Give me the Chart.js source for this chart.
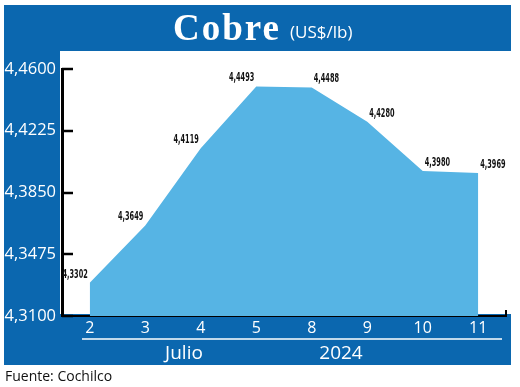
<!DOCTYPE html>
<html>
<head>
<meta charset="utf-8">
<script src="https://cdn.jsdelivr.net/npm/chart.js@4.4.1/dist/chart.umd.min.js"></script>
<style>
    html, body { margin: 0; padding: 0; background: #fff; }
    #wrap { width: 520px; height: 387px; }
</style>
</head>
<body>
<div id="wrap"><canvas id="cobreChart" width="520" height="387"></canvas></div>
<script>
const days = ['2', '3', '4', '5', '8', '9', '10', '11'];
const prices = [4.3302, 4.3649, 4.4119, 4.4493, 4.4488, 4.4280, 4.3980, 4.3969];
const yTicks = [4.31, 4.3475, 4.385, 4.4225, 4.46];

const BLUE = '#0b67af';
const AREA = '#56b4e4';

const fmt = (v) => v.toFixed(4).replace('.', ',');

const framePlugin = {
    id: 'frame',
    beforeDraw: (chart) => {
        const ctx = chart.ctx;
        ctx.save();
        ctx.fillStyle = BLUE;
        ctx.fillRect(4, 5, 507, 360);
        ctx.fillStyle = '#fff';
        ctx.fillRect(60, 51, 451, 263);
        ctx.restore();
    },
    afterDraw: (chart) => {
        const ctx = chart.ctx;
        const { left, right, bottom } = chart.chartArea;
        const y = chart.scales.y;
        const x = chart.scales.x;
        ctx.save();

        // tick marks pointing inward
        ctx.strokeStyle = '#000';
        ctx.lineWidth = 2.5;
        yTicks.forEach(v => {
            const py = Math.round(y.getPixelForValue(v));
            ctx.beginPath();
            ctx.moveTo(left, py);
            ctx.lineTo(left + 11, py);
            ctx.stroke();
        });
        ctx.lineWidth = 2;
        ctx.beginPath();
        ctx.moveTo(right, bottom);
        ctx.lineTo(right, bottom - 6);
        ctx.stroke();

        // value labels
        ctx.fillStyle = '#111';
        ctx.font = 'bold 13px "Liberation Sans Narrow", "DejaVu Sans Condensed", sans-serif';
        ctx.textBaseline = 'bottom';
        prices.forEach((v, i) => {
            const px = x.getPixelForValue(i);
            const py = y.getPixelForValue(v);
            ctx.save();
            ctx.translate(i < 4 ? px - 2 : px + 2, py - 2);
            ctx.scale(0.56, 1);
            ctx.textAlign = i < 4 ? 'right' : 'left';
            ctx.fillText(fmt(v), 0, 0);
            ctx.restore();
        });

        // title
        ctx.fillStyle = '#fff';
        ctx.textBaseline = 'alphabetic';
        ctx.textAlign = 'left';
        ctx.font = 'bold 37px "Liberation Serif", "DejaVu Serif", serif';
        ctx.letterSpacing = '2px';
        ctx.fillText('Cobre', 173, 40);
        ctx.letterSpacing = '0px';
        ctx.font = '17px "Open Sans", sans-serif';
        ctx.fillText('(US$/lb)', 290, 38);

        // month / year band
        ctx.strokeStyle = '#fff';
        ctx.lineWidth = 1.5;
        ctx.beginPath();
        ctx.moveTo(82, 339);
        ctx.lineTo(502, 339);
        ctx.stroke();
        ctx.textAlign = 'center';
        ctx.font = '19px "Open Sans", sans-serif';
        ctx.fillText('Julio', 184, 359);
        ctx.fillText('2024', 341, 359);

        // source
        ctx.textAlign = 'left';
        ctx.fillStyle = '#111';
        ctx.font = '14px "Open Sans", sans-serif';
        ctx.fillText('Fuente: Cochilco', 5, 381);
        ctx.restore();
    }
};

new Chart(document.getElementById('cobreChart'), {
    type: 'line',
    data: {
        labels: days,
        datasets: [{
            data: prices,
            fill: 'start',
            backgroundColor: AREA,
            borderWidth: 0,
            pointRadius: 0,
            tension: 0
        }]
    },
    options: {
        responsive: false,
        animation: false,
        layout: { padding: { top: 69, right: 14, left: 0, bottom: 0 } },
        plugins: {
            legend: { display: false },
            tooltip: { enabled: false }
        },
        scales: {
            x: {
                offset: true,
                grid: { display: false, drawTicks: false },
                border: { display: true, color: '#000', width: 2 },
                ticks: {
                    color: '#fff',
                    padding: 3,
                    font: { family: '"Open Sans", sans-serif', size: 16 }
                },
                afterFit: (s) => { s.height = 71; }
            },
            y: {
                min: 4.31,
                max: 4.46,
                grid: { display: false, drawTicks: false },
                border: { display: true, color: '#000', width: 3 },
                afterBuildTicks: (s) => { s.ticks = yTicks.map(v => ({ value: v })); },
                ticks: {
                    color: '#fff',
                    padding: 6,
                    font: { family: '"Open Sans", sans-serif', size: 16.5 },
                    callback: (v) => fmt(v)
                },
                afterFit: (s) => { s.width = 62; }
            }
        }
    },
    plugins: [framePlugin]
});
</script>
</body>
</html>
